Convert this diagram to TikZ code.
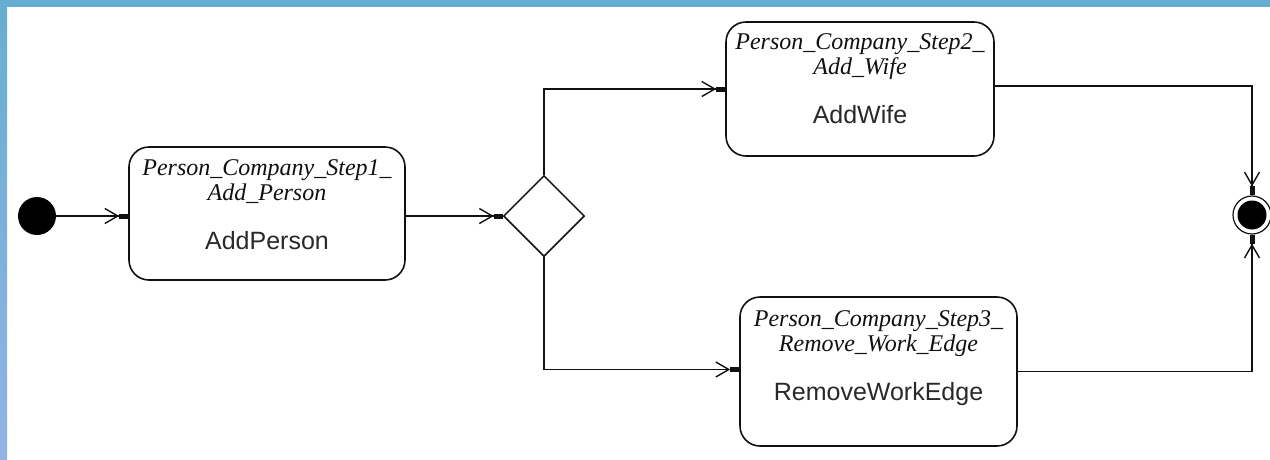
\documentclass[tikz,border=0pt]{standalone}
\usepackage{fontspec}
\setmainfont{Liberation Serif}
\setsansfont{Liberation Sans}
\usetikzlibrary{arrows.meta,shapes.geometric}

\definecolor{barblue}{HTML}{66AED0}
\definecolor{barlow}{HTML}{93B3E5}
\definecolor{ink}{HTML}{111111}

\tikzset{
  flowtip/.tip={Straight Barb[length=13pt,width=15pt,line width=1.4pt]Rectangle[length=9pt,width=5pt]},
  flow/.style={draw=ink,line width=1.6pt,-flowtip},
  state/.style={draw=ink,line width=1.6pt,rectangle,rounded corners=20pt,inner sep=0pt},
  titletext/.style={font=\fontsize{24}{27}\selectfont\itshape,anchor=base,inner sep=0pt,text=ink},
  actiontext/.style={font=\fontsize{25}{28}\selectfont\sffamily,anchor=base,inner sep=0pt,text=ink!90},
  startdot/.style={circle,fill=black,minimum size=38pt,inner sep=0pt},
  enddot/.style={circle,draw=ink,line width=1.2pt,fill=white,minimum size=38pt,inner sep=0pt},
  choice/.style={diamond,draw=ink,line width=1.5pt,fill=white,minimum width=81pt,minimum height=81pt,inner sep=0pt,aspect=1}
}

\begin{document}
\begin{tikzpicture}[x=1pt,y=-1pt]
  \useasboundingbox (0,0) rectangle (1270,459);
  \fill[white] (0,0) rectangle (1270,459);
  % frame bars along the top and left edges
  \shade[top color=barblue,bottom color=barlow] (0,0) rectangle (7,459);
  \fill[barblue] (0,0) rectangle (1270,7);

  % nodes
  \node[startdot] (init) at (37,216) {};
  \node[state,minimum width=276pt,minimum height=133pt] (s1) at (267,213.5) {};
  \node[choice] (dec) at (544,216) {};
  \node[state,minimum width=268pt,minimum height=134pt] (s2) at (860,89) {};
  \node[state,minimum width=277pt,minimum height=149pt] (s3) at (878.5,371.5) {};
  \node[enddot] (fin) at (1252,215) {};
  \fill[black] (fin.center) circle (14.5pt);

  % state labels (yshift is measured upward, so negative values go down)
  \node[titletext] at ([yshift=-29pt]s1.north) {Person\_Company\_Step1\_};
  \node[titletext] at ([yshift=-54pt]s1.north) {Add\_Person};
  \node[actiontext] at ([yshift=-103pt]s1.north) {AddPerson};

  \node[titletext] at ([yshift=-28pt]s2.north) {Person\_Company\_Step2\_};
  \node[titletext] at ([yshift=-53pt]s2.north) {Add\_Wife};
  \node[actiontext] at ([yshift=-102pt]s2.north) {AddWife};

  \node[titletext] at ([yshift=-30pt]s3.north) {Person\_Company\_Step3\_};
  \node[titletext] at ([yshift=-55pt]s3.north) {Remove\_Work\_Edge};
  \node[actiontext] at ([yshift=-104pt]s3.north) {RemoveWorkEdge};

  % transitions
  \draw[flow] (init.east) -- (init.east -| s1.west);
  \draw[flow] (s1.east |- dec.west) -- (dec.west);
  \draw[flow] (dec.north) |- (s2.west);
  \draw[flow] (dec.south) |- ([yshift=2pt]s3.west);
  \draw[flow] ([yshift=3pt]s2.east) -| (fin.north);
  \draw[flow] (s3.east) -| (fin.south);
\end{tikzpicture}
\end{document}
